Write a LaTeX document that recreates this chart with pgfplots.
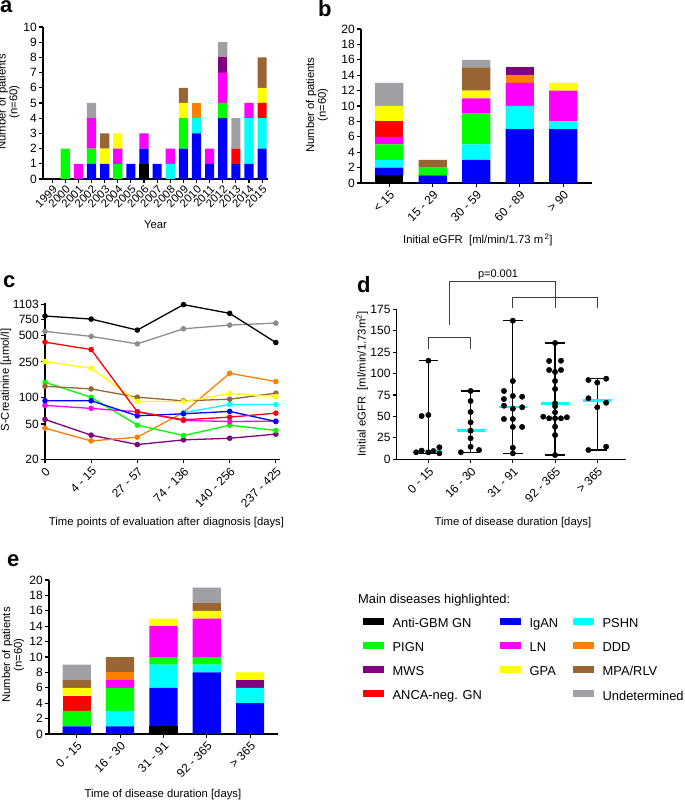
\documentclass[border=0pt]{standalone}
\usepackage{fontspec}
\setmainfont{Liberation Sans}
\usepackage{pgfplots}
\usepackage{pgfplotstable}
\pgfplotsset{compat=1.18}
\definecolor{cK}{HTML}{000000}
\definecolor{cB}{HTML}{0000FF}
\definecolor{cC}{HTML}{00FFFF}
\definecolor{cG}{HTML}{00FF00}
\definecolor{cM}{HTML}{FF00FF}
\definecolor{cR}{HTML}{FF0000}
\definecolor{cY}{HTML}{FFFF00}
\definecolor{cO}{HTML}{FF7F00}
\definecolor{cBr}{HTML}{996633}
\definecolor{cP}{HTML}{800080}
\definecolor{cGy}{HTML}{A0A0A4}
\definecolor{cGyL}{HTML}{8C8C8C}
\definecolor{brk}{HTML}{404040}

% panel a: year, stacked counts
\pgfplotstableread{
x K B C G M R Y O Br P Gy
0 0 0 0 0 0 0 0 0 0 0 0
1 0 0 0 2 0 0 0 0 0 0 0
2 0 0 0 0 1 0 0 0 0 0 0
3 0 1 0 1 2 0 0 0 0 0 1
4 0 1 0 0 0 0 1 0 1 0 0
5 0 0 0 1 1 0 1 0 0 0 0
6 0 1 0 0 0 0 0 0 0 0 0
7 1 1 0 0 1 0 0 0 0 0 0
8 0 1 0 0 0 0 0 0 0 0 0
9 0 0 1 0 1 0 0 0 0 0 0
10 0 2 0 2 0 0 1 0 1 0 0
11 0 3 1 0 0 0 0 1 0 0 0
12 0 1 0 0 1 0 0 0 0 0 0
13 0 4 0 1 2 0 0 0 0 1 1
14 0 1 0 0 0 1 0 0 0 0 2
15 0 1 3 0 1 0 0 0 0 0 0
16 0 2 2 0 0 1 1 0 2 0 0
}\tabA
% panel b: initial eGFR groups
\pgfplotstableread{
x K B C G M R Y O Br P Gy
0 1 1 1 2 1 2 2 0 0 0 3
1 0 1 0 1 0 0 0 0 1 0 0
2 0 3 2 4 2 0 1 0 3 0 1
3 0 7 3 0 3 0 0 1 0 1 0
4 0 7 1 0 4 0 1 0 0 0 0
}\tabB
% panel e: disease duration groups
\pgfplotstableread{
x K B C G M R Y O Br P Gy
0 0 1 0 2 0 2 1 0 1 0 2
1 0 1 2 3 1 0 0 1 2 0 0
2 1 5 3 1 4 0 1 0 0 0 0
3 0 8 1 1 5 0 1 0 1 0 2
4 0 4 2 0 0 0 1 0 0 1 0
}\tabE
% panel c: S-creatinine
\pgfplotstableread{
x K Gy R Y O Br G B M P
0 821 551 417 252 44.8 133 147 91.3 80.9 56.2
1 759 484 344 212 32.2 124 99.7 91.3 74.8 37.4
2 570 399 68.6 89.8 35.5 100 48.5 61.8 68.6 29.3
3 1103 590 55.7 89 67.4 91 37 65.1 54.7 33.1
4 880 649 59.7 110 186 95 48.5 69.2 53.3 34.5
5 413 684 66.2 102 150 111 42.2 53.3 53.7 38.4
}\tabC
\pgfplotstableread{
x y
3 67
4 83
5 82.6
}\tabCcyan
% panel d: individual eGFR values
\pgfplotstableread{
x y
-0.29 8.2
-0.16 10.1
0 8.2
0.12 9.7
0.26 14
0.26 7.0
-0.16 50.5
0 51.7
0 115
1 79.7
1 68
1 55.2
1 43.2
1 33.4
1 24.5
1 14.7
0.77 8.2
1.2 10.8
2 161.7
2 91.3
1.79 79.7
2.22 73
2 73.9
1.79 70.3
1.79 62.5
2 59
2.22 60.7
1.79 47
2 47
2 37.7
2.22 37.7
2 13.5
2 7.0
3 135.7
2.86 114.7
3.14 115
2.86 104.2
3 101.9
3.14 104.2
3 91.3
3 82
3 65.3
3 62
3 54.8
2.72 49.7
2.86 47.8
3 47.8
3.14 47.8
3.28 49
3 38
3 28.3
3 5
3.79 92.5
4.21 94
4 89.4
3.79 71.2
4.21 66
4 60.7
4.21 14.7
3.79 10.8
}\tabD
\pgfplotstableread{
x y
0 7.0
0 115
nan nan
-0.23 115
0.23 115
nan nan
-0.23 7.0
0.23 7.0
nan nan
1 8.2
1 79.7
nan nan
0.77 79.7
1.23 79.7
nan nan
0.77 8.2
1.23 8.2
nan nan
2 7.0
2 161.7
nan nan
1.77 161.7
2.23 161.7
nan nan
1.77 7.0
2.23 7.0
nan nan
3 5
3 135.7
nan nan
2.77 135.7
3.23 135.7
nan nan
2.77 5
3.23 5
nan nan
4 10.8
4 94
nan nan
3.77 94
4.23 94
nan nan
3.77 10.8
4.23 10.8
}\tabDrange
\pgfplotstableread{
x y
-0.33 10
0.33 10
nan nan
0.67 33.4
1.33 33.4
nan nan
1.67 60.7
2.33 60.7
nan nan
2.67 65.3
3.33 65.3
nan nan
3.67 68.6
4.33 68.6
}\tabDmed

\newcommand\lblfont{\fontsize{11.3}{11.8}\selectfont}
\newcommand\tckfont{\fontsize{12}{13}\selectfont}
\pgfplotsset{
  gp/.style={scale only axis, anchor=south west,
    axis x line*=bottom, axis y line*=left,
    axis line style={-, line width=1.4pt},
    tick style={black, line width=1.1pt},
    major tick length=4pt, tick align=outside,
    xticklabel style={font=\tckfont},
    yticklabel style={font=\tckfont, inner xsep=2pt},
    /pgf/number format/assume math mode=true,
    xlabel style={anchor=center, font=\lblfont},
    ylabel style={anchor=center, align=center, font=\lblfont},
  },
  sbar/.style={fill=#1, draw=none},
  leg/.style={hide axis, scale only axis, width=1pt, height=1pt,
    xmin=0, xmax=1, ymin=0, ymax=1, anchor=north west,
    legend style={at={(0,1)}, anchor=north west, draw=none, fill=none,
      inner sep=0pt, row sep=9.6pt, font=\fontsize{12.9}{14}\selectfont,
      legend cell align=left},
    legend image code/.code={\fill[##1] (0pt,-0.5pt) rectangle (20pt,5.5pt); \path (27pt,0pt);}},
}

\begin{document}
\begin{tikzpicture}[x=1pt,y=1pt]
\useasboundingbox (0,0) rectangle (685,801);

% ---------------- panel a ----------------
\begin{axis}[gp, at={(43pt,622pt)}, width=225pt, height=152pt,
  ybar stacked, bar width=0.7,
  xmin=-0.7, xmax=16.45, ymin=0, ymax=10,
  ytick={0,1,2,3,4,5,6,7,8,9,10},
  xtick={0,1,2,3,4,5,6,7,8,9,10,11,12,13,14,15,16},
  xticklabels={1999,2000,2001,2002,2003,2004,2005,2006,2007,2008,2009,2010,2011,2012,2013,2014,2015},
  x tick label style={rotate=45, anchor=north east, inner sep=1pt, font=\fontsize{11.3}{12}\selectfont},
  xlabel={Year}, ylabel={Number of patients\\(n=60)},
  xlabel style={at={(axis description cs:0.5,-0.30)}},
  ylabel style={at={(axis description cs:-0.153,0.507)}},
]
\addplot[sbar=cK] table[x=x,y=K]{\tabA};
\addplot[sbar=cB] table[x=x,y=B]{\tabA};
\addplot[sbar=cC] table[x=x,y=C]{\tabA};
\addplot[sbar=cG] table[x=x,y=G]{\tabA};
\addplot[sbar=cR] table[x=x,y=R]{\tabA};
\addplot[sbar=cM] table[x=x,y=M]{\tabA};
\addplot[sbar=cY] table[x=x,y=Y]{\tabA};
\addplot[sbar=cO] table[x=x,y=O]{\tabA};
\addplot[sbar=cBr] table[x=x,y=Br]{\tabA};
\addplot[sbar=cP] table[x=x,y=P]{\tabA};
\addplot[sbar=cGy] table[x=x,y=Gy]{\tabA};
\end{axis}

% ---------------- panel b ----------------
\begin{axis}[gp, at={(361pt,618pt)}, width=231pt, height=154pt,
  ybar stacked, bar width=0.65,
  xmin=-0.65, xmax=4.66, ymin=0, ymax=20,
  ytick={0,2,...,20},
  xtick={0,1,2,3,4},
  xticklabels={< 15,15 - 29,30 - 59,60 - 89,> 90},
  x tick label style={rotate=45, anchor=north east, inner sep=2pt},
  xlabel={Initial eGFR\ \ [ml/min/1.73 m\textsuperscript{\,2}]},
  ylabel={Number of patients\\(n=60)},
  xlabel style={at={(axis description cs:0.506,-0.37)}},
  ylabel style={at={(axis description cs:-0.19,0.506)}},
]
\addplot[sbar=cK] table[x=x,y=K]{\tabB};
\addplot[sbar=cB] table[x=x,y=B]{\tabB};
\addplot[sbar=cC] table[x=x,y=C]{\tabB};
\addplot[sbar=cG] table[x=x,y=G]{\tabB};
\addplot[sbar=cM] table[x=x,y=M]{\tabB};
\addplot[sbar=cR] table[x=x,y=R]{\tabB};
\addplot[sbar=cY] table[x=x,y=Y]{\tabB};
\addplot[sbar=cO] table[x=x,y=O]{\tabB};
\addplot[sbar=cBr] table[x=x,y=Br]{\tabB};
\addplot[sbar=cP] table[x=x,y=P]{\tabB};
\addplot[sbar=cGy] table[x=x,y=Gy]{\tabB};
\end{axis}

% ---------------- panel c ----------------
\begin{axis}[gp, at={(45pt,341.7pt)}, width=235pt, height=156.6pt,
  ymode=log, ymin=20, ymax=1160, xmin=0, xmax=5.09,
  ytick={20,50,100,250,500,750,1103},
  yticklabels={20,50,100,250,500,750,1103},
  yminorticks=false,
  xtick={0,1,2,3,4,5},
  xticklabels={0,4 - 15,27 - 57,74 - 136,140 - 256,237 - 425},
  x tick label style={rotate=45, anchor=north east, inner sep=2pt},
  clip=false,
  every axis plot/.append style={line width=1.3pt, mark=*, mark size=2.1pt},
  xlabel={Time points of evaluation after diagnosis [days]},
  ylabel={S-Creatinine [µmol/l]},
  xlabel style={at={(axis description cs:0.517,-0.407)}},
  ylabel style={at={(axis description cs:-0.166,0.506)}},
]
\addplot[cP] table[x=x,y=P]{\tabC};
\addplot[cO] table[x=x,y=O]{\tabC};
\addplot[cG] table[x=x,y=G]{\tabC};
\addplot[cM] table[x=x,y=M]{\tabC};
\addplot[cC] table[x=x,y=y]{\tabCcyan};
\addplot[cB] table[x=x,y=B]{\tabC};
\addplot[cBr] table[x=x,y=Br]{\tabC};
\addplot[cY] table[x=x,y=Y]{\tabC};
\addplot[cR] table[x=x,y=R]{\tabC};
\addplot[cGyL] table[x=x,y=Gy]{\tabC};
\addplot[cK] table[x=x,y=K]{\tabC};
\end{axis}

% ---------------- panel d ----------------
\begin{axis}[gp, at={(396.7pt,341.7pt)}, width=229.3pt, height=150pt,
  xmin=-0.75, xmax=4.68, ymin=0, ymax=175,
  ytick={0,25,...,175},
  xtick={0,1,2,3,4},
  xticklabels={0 - 15,16 - 30,31 - 91,92 - 365,> 365},
  x tick label style={rotate=45, anchor=north east, inner sep=2pt},
  clip=false,
  xlabel={Time of disease duration [days]},
  ylabel={Initial eGFR\ \ [ml/min/1.73m\textsuperscript{2}]},
  xlabel style={at={(axis description cs:0.507,-0.425)}},
  ylabel style={at={(axis description cs:-0.151,0.502)}},
]
\addplot[black, line width=1.3pt, unbounded coords=jump] table[x=x,y=y]{\tabDrange};
\addplot[cC, line width=2.4pt, unbounded coords=jump] table[x=x,y=y]{\tabDmed};
\addplot[only marks, mark=*, mark size=2.7pt, black] table[x=x,y=y]{\tabD};
\draw[brk, line width=0.8pt] (axis cs:0,128.3) -- (axis cs:0,141.9) -- (axis cs:1,141.9) -- (axis cs:1,128.3);
\draw[brk, line width=0.8pt] (axis cs:2,176.2) -- (axis cs:2,188.6) -- (axis cs:4,188.6) -- (axis cs:4,176.2);
\draw[brk, line width=0.8pt] (axis cs:3,176.2) -- (axis cs:3,188.6);
\draw[brk, line width=0.8pt] (axis cs:0.5,156.7) -- (axis cs:0.5,208) -- (axis cs:3,208) -- (axis cs:3,188.6);
\node[anchor=south, font=\fontsize{11}{12}\selectfont, inner sep=1.5pt] at (axis cs:1.65,208) {p=0.001};
\end{axis}

% ---------------- panel e ----------------
\begin{axis}[gp, at={(49pt,67pt)}, width=229.3pt, height=154pt,
  ybar stacked, bar width=0.65,
  xmin=-0.64, xmax=4.65, ymin=0, ymax=20,
  ytick={0,2,...,20},
  xtick={0,1,2,3,4},
  xticklabels={0 - 15,16 - 30,31 - 91,92 - 365,> 365},
  x tick label style={rotate=45, anchor=north east, inner sep=2pt},
  xlabel={Time of disease duration [days]},
  ylabel={Number of patients\\(n=60)},
  xlabel style={at={(axis description cs:0.497,-0.396)}},
  ylabel style={at={(axis description cs:-0.157,0.513)}},
]
\addplot[sbar=cK] table[x=x,y=K]{\tabE};
\addplot[sbar=cB] table[x=x,y=B]{\tabE};
\addplot[sbar=cC] table[x=x,y=C]{\tabE};
\addplot[sbar=cG] table[x=x,y=G]{\tabE};
\addplot[sbar=cR] table[x=x,y=R]{\tabE};
\addplot[sbar=cM] table[x=x,y=M]{\tabE};
\addplot[sbar=cP] table[x=x,y=P]{\tabE};
\addplot[sbar=cY] table[x=x,y=Y]{\tabE};
\addplot[sbar=cO] table[x=x,y=O]{\tabE};
\addplot[sbar=cBr] table[x=x,y=Br]{\tabE};
\addplot[sbar=cGy] table[x=x,y=Gy]{\tabE};
\end{axis}

% ---------------- legend ----------------
\node[anchor=base west, font=\fontsize{12.9}{14}\selectfont, inner sep=0pt] at (358,197) {Main diseases highlighted:};
\begin{axis}[leg, at={(363pt,185pt)}]
\addlegendimage{cK}\addlegendentry{Anti-GBM GN}
\addlegendimage{cG}\addlegendentry{PIGN}
\addlegendimage{cP}\addlegendentry{MWS}
\addlegendimage{cR}\addlegendentry{ANCA-neg. GN}
\end{axis}
\begin{axis}[leg, at={(500pt,185pt)}]
\addlegendimage{cB}\addlegendentry{IgAN}
\addlegendimage{cM}\addlegendentry{LN}
\addlegendimage{cY}\addlegendentry{GPA}
\end{axis}
\begin{axis}[leg, at={(573pt,185pt)}]
\addlegendimage{cC}\addlegendentry{PSHN}
\addlegendimage{cO}\addlegendentry{DDD}
\addlegendimage{cBr}\addlegendentry{MPA/RLV}
\addlegendimage{cGy}\addlegendentry{Undetermined}
\end{axis}

% panel letters
\node[anchor=base west, font=\bfseries\fontsize{22}{24}\selectfont, inner sep=0pt] at (0,788) {a};
\node[anchor=base west, font=\bfseries\fontsize{22}{24}\selectfont, inner sep=0pt] at (318,784) {b};
\node[anchor=base west, font=\bfseries\fontsize{22}{24}\selectfont, inner sep=0pt] at (3,513) {c};
\node[anchor=base west, font=\bfseries\fontsize{22}{24}\selectfont, inner sep=0pt] at (357,508) {d};
\node[anchor=base west, font=\bfseries\fontsize{22}{24}\selectfont, inner sep=0pt] at (7,234) {e};
\end{tikzpicture}
\end{document}
